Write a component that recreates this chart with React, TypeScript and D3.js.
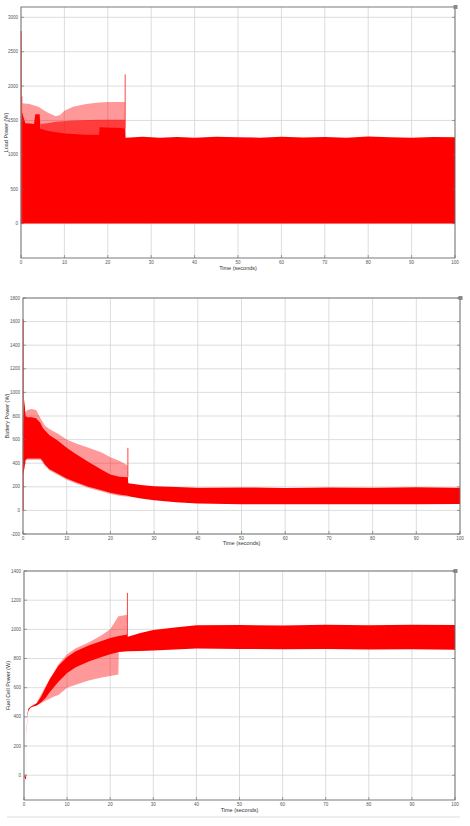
import * as d3 from "d3";

// Time ticks shared by all three panels
const timeTicks = [0, 10, 20, 30, 40, 50, 60, 70, 80, 90, 100];

// ---- Load power (W)
const loadTicks = [0, 500, 1000, 1500, 2000, 2500, 3000];
const loadT = [0, 0.25, 1, 2, 3, 3.3, 4.3, 4.5, 6, 8, 10, 12, 15, 18, 18.1, 21, 23, 24, 24.1, 28, 32, 36, 40, 45, 50, 55, 60, 65, 70, 75, 80, 85, 90, 95, 100];
const loadHi = [1450, 1620, 1460, 1455, 1450, 1590, 1590, 1380, 1350, 1330, 1310, 1305, 1300, 1300, 1400, 1395, 1390, 1380, 1250, 1262, 1250, 1258, 1248, 1262, 1255, 1250, 1264, 1252, 1258, 1250, 1266, 1255, 1250, 1260, 1256];
const loadLo = loadT.map(() => 0);
const loadMidT = [4.5, 6, 8, 12, 18, 24];
const loadMidHi = [1450, 1460, 1480, 1500, 1510, 1510];
const loadPaleT = [0.3, 2, 4, 6, 8, 9, 10, 12, 15, 18, 20, 22, 24];
const loadPaleHi = [1750, 1740, 1700, 1620, 1560, 1580, 1640, 1700, 1740, 1760, 1770, 1770, 1770];
const loadPaleLo = [1300, 1300, 1300, 1300, 1300, 1300, 1300, 1300, 1300, 1300, 1300, 1300, 1300];
const loadSpikeT = [0.05, 0.2, 24];
const loadSpikeBase = [0, 0, 1380];
const loadSpikeV = [2800, 1850, 2170];

// ---- Battery power (W)
const batTicks = [-200, 0, 200, 400, 600, 800, 1000, 1200, 1400, 1600, 1800];
const batT = [0, 0.3, 0.6, 1, 2, 3, 4, 4.5, 5, 6, 8, 10, 12, 15, 18, 20, 22, 24, 24.1, 27, 30, 35, 40, 50, 60, 70, 80, 90, 100];
const batHi = [700, 940, 800, 790, 790, 780, 740, 700, 680, 640, 590, 530, 480, 410, 345, 305, 285, 280, 230, 215, 205, 198, 192, 195, 190, 194, 192, 196, 192];
const batLo = [300, 350, 430, 440, 440, 440, 440, 420, 390, 350, 310, 270, 240, 200, 170, 150, 135, 125, 120, 100, 85, 70, 58, 52, 52, 53, 52, 53, 55];
const batPaleT = [0.5, 1, 2, 3, 4, 5, 6, 8, 10, 12, 15, 18, 20, 22, 24];
const batPaleHi = [830, 850, 860, 850, 780, 720, 690, 650, 600, 570, 530, 490, 450, 420, 380];
const batPaleLo = [420, 430, 430, 430, 430, 380, 340, 300, 260, 230, 190, 160, 140, 125, 115];
const batSpikeT = [0.05, 24];
const batSpikeBase = [0, 280];
const batSpikeV = [1620, 530];

// ---- Fuel cell power (W)
const fuelTicks = [0, 200, 400, 600, 800, 1000, 1200, 1400];
const fuelT = [0, 0.3, 0.5, 0.6, 0.8, 1, 1.5, 2, 3, 4, 5, 6, 8, 10, 12, 15, 18, 20, 22, 24, 24.1, 27, 30, 35, 40, 50, 60, 70, 80, 90, 100];
const fuelHi = [0, -10, 10, 300, 420, 455, 470, 478, 495, 540, 600, 660, 750, 810, 850, 890, 920, 940, 955, 965, 950, 975, 995, 1012, 1028, 1030, 1026, 1032, 1028, 1032, 1030];
const fuelLo = [0, -30, -20, 280, 400, 440, 462, 470, 478, 500, 530, 570, 640, 700, 740, 780, 810, 830, 845, 850, 850, 852, 855, 862, 868, 866, 864, 866, 862, 864, 860];
const fuelPaleT = [3, 5, 7, 8, 10, 12, 15, 18, 20, 21.9, 22, 24];
const fuelPaleLo = [480, 510, 540, 550, 600, 620, 650, 670, 680, 690, 850, 850];
const fuelPaleHi = [500, 610, 710, 760, 830, 870, 910, 960, 1000, 1090, 1090, 1100];
const fuelSpikeT = [24];
const fuelSpikeBase = [960];
const fuelSpikeV = [1250];

const panels = [
  {
    label: "Load Power (W)", ticks: loadTicks, yDomain: [-500, 3150],
    box: { left: 21, right: 455, top: 7, bottom: 258 }, xLabelY: 270, yLabelX: 8,
    t: loadT, hi: loadHi, lo: loadLo,
    pale: [{ t: loadPaleT, lo: loadPaleLo, hi: loadPaleHi, op: 0.4 }, { t: loadMidT, lo: loadMidT.map(() => 1300), hi: loadMidHi, op: 0.6 }],
    spikeT: loadSpikeT, spikeBase: loadSpikeBase, spikeV: loadSpikeV,
  },
  {
    label: "Battery Power (W)", ticks: batTicks, yDomain: [-200, 1800],
    box: { left: 23, right: 460, top: 298, bottom: 534 }, xLabelY: 545, yLabelX: 9,
    t: batT, hi: batHi, lo: batLo,
    pale: [{ t: batPaleT, lo: batPaleLo, hi: batPaleHi, op: 0.4 }],
    spikeT: batSpikeT, spikeBase: batSpikeBase, spikeV: batSpikeV,
  },
  {
    label: "Fuel Cell Power (W)", ticks: fuelTicks, yDomain: [-170, 1400],
    box: { left: 24, right: 455, top: 571, bottom: 800 }, xLabelY: 812, yLabelX: 10,
    t: fuelT, hi: fuelHi, lo: fuelLo,
    pale: [{ t: fuelPaleT, lo: fuelPaleLo, hi: fuelPaleHi, op: 0.4 }],
    spikeT: fuelSpikeT, spikeBase: fuelSpikeBase, spikeV: fuelSpikeV,
  },
];

function Panel({ p }) {
  const { left, right, top, bottom } = p.box;
  const x = d3.scaleLinear([0, 100], [left, right]);
  const y = d3.scaleLinear(p.yDomain, [bottom, top]);

  const band = (t, lo, hi) =>
    d3.area()
      .x((d, i) => x(t[i]))
      .y0((d, i) => y(lo[i]))
      .y1((d, i) => y(hi[i]))(t);

  return (
    <g>
      {timeTicks.map((v) => (
        <line key={"gx" + v} x1={x(v)} x2={x(v)} y1={top} y2={bottom} stroke="#d4d4d4" strokeWidth={0.8} />
      ))}
      {p.ticks.map((v) => (
        <line key={"gy" + v} x1={left} x2={right} y1={y(v)} y2={y(v)} stroke="#d4d4d4" strokeWidth={0.8} />
      ))}

      {p.pale.map((s, i) => (
        <path key={"pale" + i} d={band(s.t, s.lo, s.hi)} fill="#ff0000" fillOpacity={s.op} />
      ))}
      <path d={band(p.t, p.lo, p.hi)} fill="#ff0000" />
      {p.spikeT.map((t, i) => (
        <line key={"sp" + i} x1={x(t)} x2={x(t)} y1={y(p.spikeBase[i])} y2={y(p.spikeV[i])} stroke="#ff3030" strokeWidth={0.9} />
      ))}

      <rect x={left} y={top} width={right - left} height={bottom - top} fill="none" stroke="#6a6a6a" strokeWidth={0.9} />
      <rect x={right - 1.5} y={top - 2} width={4} height={4} fill="#888" />

      {timeTicks.map((v) => (
        <g key={"tx" + v}>
          <line x1={x(v)} x2={x(v)} y1={bottom} y2={bottom - 3} stroke="#666" strokeWidth={0.6} />
          <text x={x(v)} y={bottom + 6} textAnchor="middle" fontSize={4.5} fill="#555">{v}</text>
        </g>
      ))}
      {p.ticks.map((v) => (
        <g key={"ty" + v}>
          <line x1={left} x2={left + 3} y1={y(v)} y2={y(v)} stroke="#666" strokeWidth={0.6} />
          <line x1={right} x2={right - 3} y1={y(v)} y2={y(v)} stroke="#666" strokeWidth={0.6} />
          <text x={left - 3} y={y(v) + 1.6} textAnchor="end" fontSize={4.5} fill="#555">{v}</text>
        </g>
      ))}

      <text x={(left + right) / 2} y={p.xLabelY} textAnchor="middle" fontSize={5.5} fill="#333">Time (seconds)</text>
      <text
        transform={`translate(${p.yLabelX},${(top + bottom) / 2}) rotate(-90)`}
        textAnchor="middle" fontSize={5.5} fill="#333"
      >{p.label}</text>
    </g>
  );
}

export default function App() {
  return (
    <svg width={470} height={826} style={{ position: "absolute", left: 0, top: 0, background: "#fff" }}
      fontFamily="Liberation Sans, Arial, sans-serif">
      <rect width={470} height={826} fill="#fff" />
      {panels.map((p, i) => <Panel key={i} p={p} />)}
      <line x1={7} x2={460} y1={817} y2={817} stroke="#ddd" strokeWidth={1} />
    </svg>
  );
}
